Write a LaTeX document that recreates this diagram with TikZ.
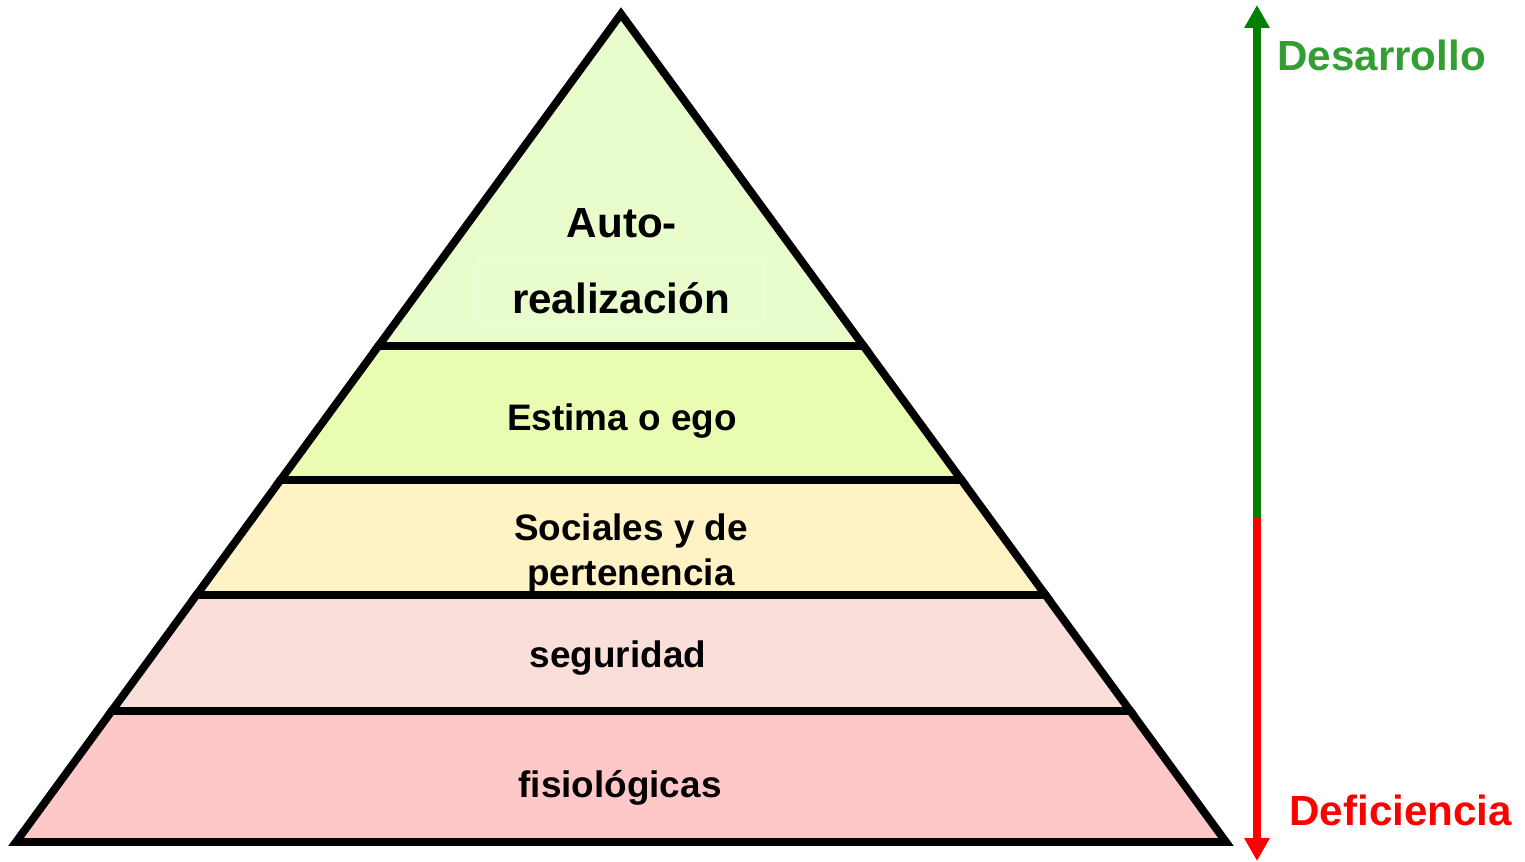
\documentclass[tikz,border=0pt]{standalone}
\usepackage{fontspec}
\setsansfont{Liberation Sans}
\usetikzlibrary{calc,positioning,arrows.meta}
\definecolor{lvlfive}{RGB}{232,252,204}
\definecolor{lvlfour}{RGB}{232,253,178}
\definecolor{lvlthree}{RGB}{255,242,196}
\definecolor{lvltwo}{RGB}{249,222,218}
\definecolor{lvlone}{RGB}{255,200,200}
\definecolor{devgreen}{RGB}{0,128,0}
\definecolor{devtext}{RGB}{51,158,51}
\definecolor{defred}{RGB}{255,0,0}

\begin{document}
\begin{tikzpicture}[x=0.02cm, y=-0.02cm, font=\sffamily\bfseries]

\tikzstyle{layer} = [draw=black, line width=4.5pt, line join=miter]
\tikzstyle{lvltext} = [inner sep=0, anchor=base, font=\fontsize{21}{25}\selectfont\sffamily\bfseries]
\tikzstyle{toptext} = [inner sep=0, anchor=base, font=\fontsize{24}{29}\selectfont\sffamily\bfseries]
\tikzstyle{faintbox} = [draw=green!10, line width=0.6pt, minimum width=162.7pt, minimum height=35.7pt, inner sep=0]
\tikzstyle{sidetext} = [inner sep=0, anchor=base west, font=\fontsize{24}{29}\selectfont\sffamily\bfseries]
\tikzstyle{sidearrow} = [line width=4.5pt, -{Triangle[width=13.6pt, length=13pt]}]

\useasboundingbox (0,0) rectangle (1525,862);

% corners of the pyramid
\coordinate (apex) at (621,14);
\coordinate (bl) at (16,842);
\coordinate (br) at (1226,842);
\coordinate (l1) at ($(apex)!0.401!(bl)$);  \coordinate (r1) at ($(apex)!0.401!(br)$);
\coordinate (l2) at ($(apex)!0.5628!(bl)$); \coordinate (r2) at ($(apex)!0.5628!(br)$);
\coordinate (l3) at ($(apex)!0.7017!(bl)$); \coordinate (r3) at ($(apex)!0.7017!(br)$);
\coordinate (l4) at ($(apex)!0.8418!(bl)$); \coordinate (r4) at ($(apex)!0.8418!(br)$);

\path[layer, fill=lvlone]   (l4) -- (r4) -- (br) -- (bl) -- cycle;
\path[layer, fill=lvltwo]   (l3) -- (r3) -- (r4) -- (l4) -- cycle;
\path[layer, fill=lvlthree] (l2) -- (r2) -- (r3) -- (l3) -- cycle;
\path[layer, fill=lvlfour]  (l1) -- (r1) -- (r2) -- (l2) -- cycle;
\path[layer, fill=lvlfive]  (apex) -- (r1) -- (l1) -- cycle;

\node[faintbox] (realbox) at (621,291) {};
\node[toptext] (auto) at (622,237) {Auto-};
\node[toptext] (real) at (621,313) {realización};
\node[lvltext] (ego) at (622,430) {Estima o ego};
\node[lvltext] (soc) at (631,540) {Sociales y de};
\node[lvltext] (pert) at (631,585) {pertenencia};
\node[lvltext] (seg) at (618,667) {seguridad};
\node[lvltext] (fis) at (620,797) {fisiológicas};

% development / deficiency axis
\coordinate (arrtop) at (1257,5);
\coordinate (arrmid) at (1257,518);
\coordinate (arrbot) at (1257,861);
\draw[sidearrow, devgreen] (arrmid) -- (arrtop);
\draw[sidearrow, defred] (arrmid) -- (arrbot);

\node[sidetext, text=devtext] (des) at (1277,71) {Desarrollo};
\node[sidetext, text=defred] (def) at (1289,825) {Deficiencia};

\end{tikzpicture}
\end{document}
